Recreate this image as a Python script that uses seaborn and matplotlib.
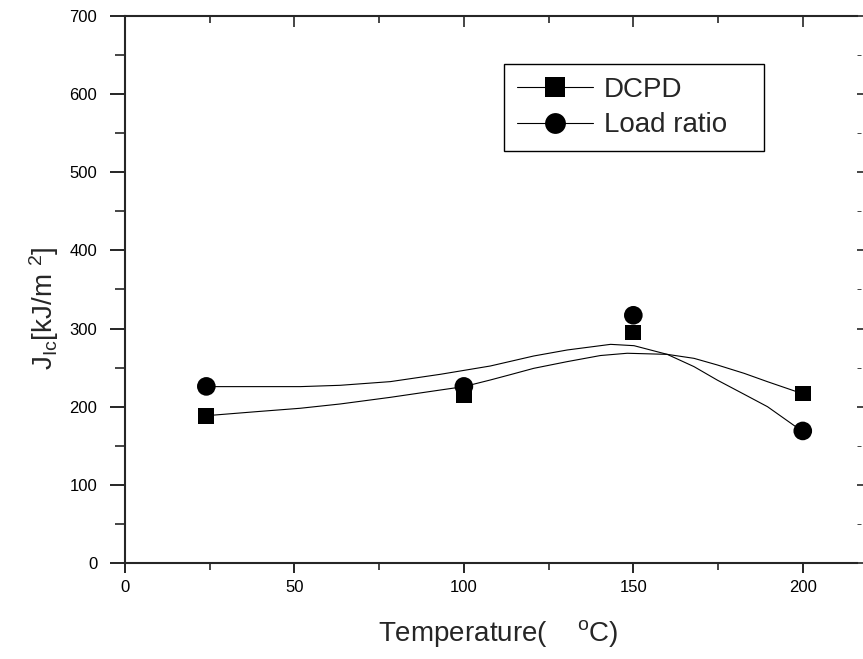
import matplotlib
matplotlib.use("Agg")
import matplotlib.pyplot as plt
from matplotlib.lines import Line2D
from matplotlib.ticker import MultipleLocator
import seaborn as sns
import pandas as pd

# measured points
temp = [24, 100, 150, 200]
dcpd = [188, 215, 295, 217]
load_ratio = [226, 226, 317, 169]

# smoothed curves
dcpd_curve_x = [24, 38.9, 51.7, 63.5, 78.3, 93.1, 100, 107.8, 113.7, 120.6, 130.5, 140.3,
                148.2, 160, 167.9, 174.8, 182.7, 189.6, 199.7]
dcpd_curve_y = [188.5, 193.7, 198.0, 203.5, 212.0, 221.4, 225.7, 234.2, 241.0, 249.1, 257.7, 265.5,
                268.4, 267.0, 261.9, 253.4, 242.7, 232.0, 217.0]
lr_curve_x = [24, 51.7, 63.5, 78.3, 93.1, 107.8, 120.6, 130.5, 143.3, 150.2, 160,
              167.9, 174.8, 182.7, 189.6, 199.7]
lr_curve_y = [225.7, 225.7, 227.4, 232.1, 241.5, 252.1, 264.9, 272.6, 279.8, 278.1, 267.0,
              251.3, 234.0, 215.9, 200.0, 169.0]

sns.set_style("ticks")
plt.rcParams['font.family'] = ['Liberation Sans', 'DejaVu Sans']
plt.rcParams['mathtext.default'] = 'regular'

pts = pd.DataFrame({'T': temp, 'DCPD': dcpd, 'Load ratio': load_ratio})

fig = plt.figure(figsize=(8.63, 6.59), dpi=100)
ax = fig.add_axes([0.14484, 0.14568, 0.84820, 0.83005])

sns.lineplot(x=lr_curve_x, y=lr_curve_y, sort=False, color='black', lw=0.8, ax=ax)
sns.lineplot(x=dcpd_curve_x, y=dcpd_curve_y, sort=False, color='black', lw=0.8, ax=ax)
sns.scatterplot(data=pts, x='T', y='Load ratio', marker='o', s=180, color='black',
                edgecolor='none', ax=ax, zorder=3)
sns.scatterplot(data=pts, x='T', y='DCPD', marker='s', s=128, color='black',
                edgecolor='none', ax=ax, zorder=4)

ax.set_xlim(0, 216)
ax.set_ylim(0, 700)
ax.xaxis.set_major_locator(MultipleLocator(50))
ax.xaxis.set_minor_locator(MultipleLocator(25))
ax.yaxis.set_major_locator(MultipleLocator(100))
ax.yaxis.set_minor_locator(MultipleLocator(50))

for s in ['left', 'bottom']:
    ax.spines[s].set_linewidth(1.5)
ax.spines['top'].set_visible(False)
ax.spines['right'].set_visible(False)

ax.tick_params(axis='x', which='major', direction='out', length=7, width=1.2, pad=5,
               labelsize=12, colors='black')
ax.tick_params(axis='x', which='minor', direction='out', length=5, width=1.2)
ax.tick_params(axis='y', which='major', direction='out', length=11, width=1.2, pad=9,
               labelsize=12, colors='black')
ax.tick_params(axis='y', which='minor', direction='out', length=7, width=1.2)

top = ax.secondary_xaxis('top')
top.xaxis.set_major_locator(MultipleLocator(50))
top.xaxis.set_minor_locator(MultipleLocator(25))
top.spines['top'].set_linewidth(1.5)
top.tick_params(which='major', direction='in', length=8, width=1.2, labeltop=False)
top.tick_params(which='minor', direction='in', length=5, width=1.2)

right = ax.secondary_yaxis('right')
right.yaxis.set_major_locator(MultipleLocator(100))
right.yaxis.set_minor_locator(MultipleLocator(50))
right.spines['right'].set_visible(False)
right.tick_params(which='major', direction='out', length=8, width=1.2, labelright=False)
right.tick_params(which='minor', direction='out', length=3, width=0.6)

ax.set_xlabel('Temperature(    $^{o}$C)', fontsize=20)
ax.xaxis.set_label_coords(0.51, -0.10)
ax.set_ylabel('J$_{Ic}$[kJ/m $^{2}$]', fontsize=20)
ax.yaxis.set_label_coords(-0.088, 0.465)

handles = [
    Line2D([], [], color='black', lw=0.8, marker='s', markersize=13.7, markeredgewidth=0),
    Line2D([], [], color='black', lw=0.8, marker='o', markersize=15, markeredgewidth=0),
]
leg = ax.legend(handles, ['DCPD', 'Load ratio'], loc='upper left',
                bbox_to_anchor=(0.518, 0.733, 0.355, 0.179), mode='expand',
                borderaxespad=0, fontsize=20, handlelength=2.75, handletextpad=0.4,
                labelspacing=0.35, borderpad=0.45, frameon=True, fancybox=False,
                framealpha=1)
leg.get_frame().set_edgecolor('black')
leg.get_frame().set_linewidth(1.0)

fig.savefig('out.png', dpi=100)
